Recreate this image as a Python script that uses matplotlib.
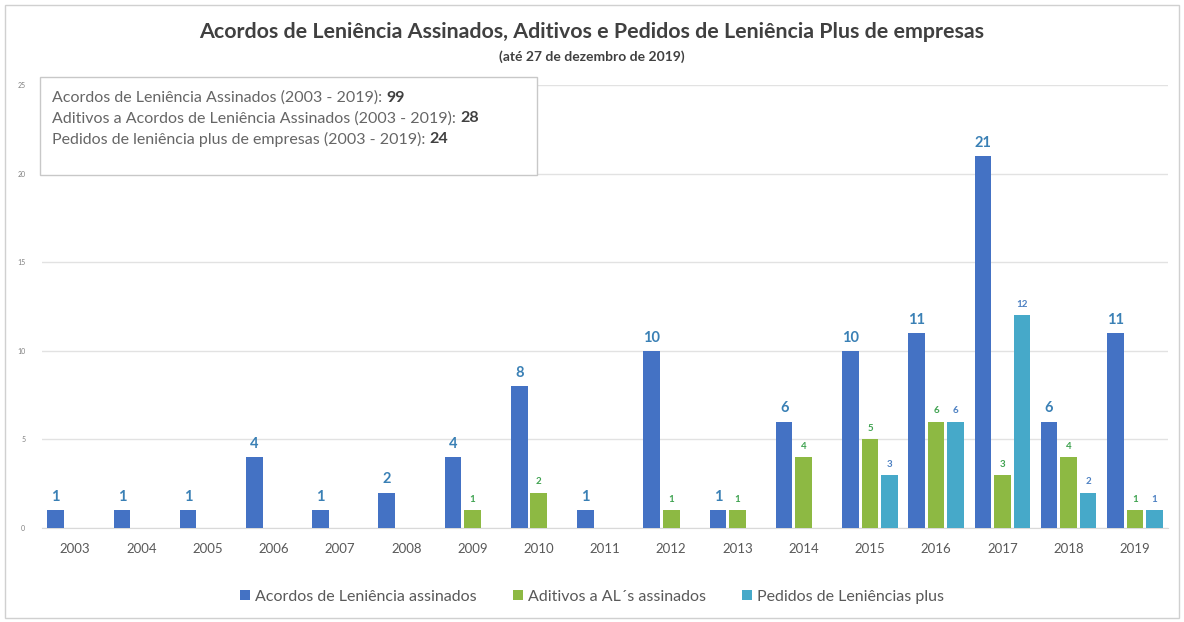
import matplotlib
matplotlib.use("Agg")
import matplotlib.pyplot as plt
import numpy as np
from matplotlib.patches import Rectangle

years = ["2003", "2004", "2005", "2006", "2007", "2008", "2009", "2010", "2011",
         "2012", "2013", "2014", "2015", "2016", "2017", "2018", "2019"]
acordos = [1, 1, 1, 4, 1, 2, 4, 8, 1, 10, 1, 6, 10, 11, 21, 6, 11]
aditivos = [0, 0, 0, 0, 0, 0, 1, 2, 0, 1, 1, 4, 5, 6, 3, 4, 1]
plus = [0, 0, 0, 0, 0, 0, 0, 0, 0, 0, 0, 0, 3, 6, 12, 2, 1]
series_names = ["Acordos de Leniência assinados", "Aditivos a AL´s assinados", "Pedidos de Leniências plus"]
summary_labels = ["Acordos de Leniência Assinados (2003 - 2019): ",
                  "Aditivos a Acordos de Leniência Assinados (2003 - 2019): ",
                  "Pedidos de leniência plus de empresas (2003 - 2019): "]
summary_values = ["99", "28", "24"]
yticks = [0, 5, 10, 15, 20, 25]

plt.rcParams['font.family'] = ['Lato', 'DejaVu Sans']

W, H = 1184, 622
fig = plt.figure(figsize=(W / 100, H / 100), dpi=100)
fig.patch.set_facecolor("white")

# outer border
fig.patches.append(Rectangle((5 / W, 4 / H), 1174 / W, 613 / H, transform=fig.transFigure,
                             fill=False, edgecolor="#d0d0d0", linewidth=1))

left, right, top, bottom = 42, 1168, 85, 528
ax = fig.add_axes([left / W, 1 - bottom / H, (right - left) / W, (bottom - top) / H])

x = np.arange(len(years))
bw = 0.25
off = 0.295
colors = ["#4472C4", "#8DB943", "#46A9C9"]
lab_colors = ["#3A80B5", "#3FA250", "#4C80C2"]
data = [acordos, aditivos, plus]
for i, (vals, c, lc, name) in enumerate(zip(data, colors, lab_colors, series_names)):
    xs = x + (i - 1) * off
    ax.bar(xs, vals, width=bw, color=c, label=name, zorder=3)
    for xi, v in zip(xs, vals):
        if v > 0:
            if i == 0:
                ax.text(xi, v + 0.35, str(v), ha="center", va="bottom", fontsize=10.5,
                        fontweight="bold", color=lc, zorder=4)
            else:
                ax.text(xi, v + 0.35, str(v), ha="center", va="bottom", fontsize=7,
                        fontweight="bold", color=lc, zorder=4)

ax.set_xlim(-0.5, len(years) - 0.5)
ax.set_ylim(0, 25)
ax.set_yticks(yticks)
ax.set_yticklabels([str(t) for t in yticks], fontsize=5, color="#808080")
ax.set_xticks(x)
ax.set_xticklabels(years, fontsize=9.5, color="#595959")
ax.tick_params(axis="both", length=0)
ax.tick_params(axis="y", pad=12)
ax.tick_params(axis="x", pad=11)
ax.grid(axis="y", color="#e2e2e2", linewidth=1, zorder=0)
for s in ["top", "right", "left"]:
    ax.spines[s].set_visible(False)
ax.spines["bottom"].set_color("#d9d9d9")

# title
fig.text(0.5, 1 - 32 / H, "Acordos de Leniência Assinados, Aditivos e Pedidos de Leniência Plus de empresas",
         ha="center", va="center", fontsize=15.4, fontweight="bold", color="#404040")
fig.text(0.5, 1 - 57 / H, "(até 27 de dezembro de 2019)", ha="center", va="center",
         fontsize=10, fontweight="bold", color="#404040")

# summary box
box = Rectangle((40 / W, 1 - 175 / H), 497 / W, 98 / H, transform=fig.transFigure,
                facecolor="white", edgecolor="#c8c8c8", linewidth=1, zorder=5)
fig.add_artist(box)
label_texts = []
for k, lbl in enumerate(summary_labels):
    yy = 1 - (98 + k * 20.5) / H
    t = fig.text(52 / W, yy, lbl, ha="left", va="center", fontsize=11.5, color="#666666", zorder=6)
    label_texts.append((t, yy))

fig.canvas.draw()
renderer = fig.canvas.get_renderer()
for (t, yy), val in zip(label_texts, summary_values):
    bb = t.get_window_extent(renderer)
    fig.text(bb.x1 / W, yy, val, ha="left", va="center", fontsize=11.5, fontweight="bold",
             color="#404040", zorder=6)

# legend
leg = fig.legend(loc="center", bbox_to_anchor=(0.5, 1 - 597 / H), ncol=3, frameon=False,
                 fontsize=11.5, handlelength=0.6, handleheight=0.6, columnspacing=2.3, handletextpad=0.3)
for txt in leg.get_texts():
    txt.set_color("#595959")

fig.savefig("out.png", dpi=100)
